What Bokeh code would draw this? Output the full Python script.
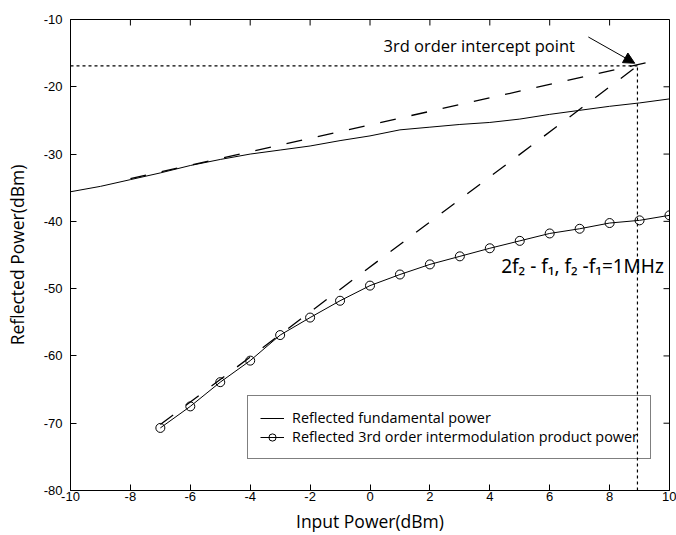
from bokeh.plotting import figure
from bokeh.models import (Range1d, FixedTicker, Legend, LegendItem,
                          Label, Arrow, NormalHead)
from bokeh.embed import file_html
from bokeh.resources import INLINE

# ---------------- data ----------------
input_power = [-10, -9, -8, -7, -6, -5, -4, -3, -2, -1, 0, 1, 2, 3, 4, 5, 6, 7, 8, 9, 10]
fundamental = [-35.6, -34.8, -33.8, -32.8, -31.7, -30.8, -30.0, -29.4, -28.8, -28.0,
               -27.3, -26.4, -26.0, -25.6, -25.3, -24.8, -24.1, -23.5, -22.9, -22.4, -21.8]
im3_input = [-7, -6, -5, -4, -3, -2, -1, 0, 1, 2, 3, 4, 5, 6, 7, 8, 9, 10]
im3_power = [-70.7, -67.5, -63.9, -60.7, -56.9, -54.3, -51.8, -49.55, -47.9, -46.4,
             -45.2, -44.0, -42.9, -41.8, -41.1, -40.25, -39.85, -39.1]
fund_ext_x = [-8.0, 9.3]
fund_ext_y = [-33.65, -16.35]
im3_ext_x = [-7.0, 8.9]
im3_ext_y = [-70.2, -17.0]
intercept_x = 8.93
intercept_y = -16.9
x_ticks = [-10, -8, -6, -4, -2, 0, 2, 4, 6, 8, 10]
x_tick_labels = ["-10", "-8", "-6", "-4", "-2", "0", "2", "4", "6", "8", "10"]
y_ticks = [-80, -70, -60, -50, -40, -30, -20, -10]
y_tick_labels = ["-80", "-70", "-60", "-50", "-40", "-30", "-20", "-10"]
x_min, x_max = -10, 10
y_min, y_max = -80, -10

TXT = "Open Sans"
TICKFONT = "Liberation Sans"

FRAME_W, FRAME_H = 599, 472
TICK_PX = 6

p = figure(width=676, height=535, x_range=Range1d(x_min, x_max), y_range=Range1d(y_min, y_max),
           output_backend="svg", toolbar_location=None,
           min_border_left=70, min_border_right=7, min_border_top=19, min_border_bottom=44,
           x_axis_label="Input Power(dBm)", y_axis_label="Reflected Power(dBm)")
p.grid.visible = False
p.outline_line_color = "black"
p.outline_line_width = 1
p.background_fill_color = "white"
p.border_fill_color = "white"

p.xaxis.ticker = FixedTicker(ticks=x_ticks)
p.yaxis.ticker = FixedTicker(ticks=y_ticks)
p.xaxis.major_label_overrides = {t: s for t, s in zip(x_ticks, x_tick_labels)}
p.yaxis.major_label_overrides = {t: s for t, s in zip(y_ticks, y_tick_labels)}

for ax in (p.xaxis[0], p.yaxis[0]):
    ax.major_tick_in = TICK_PX
    ax.major_tick_out = 0
    ax.minor_tick_line_color = None
    ax.axis_line_color = "black"
    ax.major_tick_line_color = "black"
    ax.major_label_text_font = TICKFONT
    ax.major_label_text_font_size = "13px"
    ax.major_label_text_color = "black"
    ax.axis_label_text_font = TXT
    ax.axis_label_text_font_size = "17.5px"
    ax.axis_label_text_font_style = "normal"
    ax.axis_label_text_color = "black"
p.xaxis.major_label_standoff = 1
p.yaxis.major_label_standoff = 8
p.xaxis.axis_label_standoff = 5
p.yaxis.axis_label_standoff = 12

# inward ticks on the top and right frame edges
tick_dy = TICK_PX * (y_max - y_min) / FRAME_H
tick_dx = TICK_PX * (x_max - x_min) / FRAME_W
p.segment(x0=x_ticks, y0=[y_max] * len(x_ticks), x1=x_ticks, y1=[y_max - tick_dy] * len(x_ticks),
          line_color="black", line_width=1)
p.segment(x0=[x_max] * len(y_ticks), y0=y_ticks, x1=[x_max - tick_dx] * len(y_ticks), y1=y_ticks,
          line_color="black", line_width=1)

# dotted intercept guides
p.line([x_min, intercept_x], [intercept_y, intercept_y], line_color="black",
       line_width=1.2, line_dash="3 3")
p.line([intercept_x, intercept_x], [y_min, intercept_y], line_color="black",
       line_width=1.2, line_dash="3 3")

# extrapolation dashed lines
p.line(fund_ext_x, fund_ext_y, line_color="black", line_width=1.3, line_dash="16 16")
p.line(im3_ext_x, im3_ext_y, line_color="black", line_width=1.3, line_dash="16 16")

# measured curves
r_fund = p.line(input_power, fundamental, line_color="black", line_width=1)
r_im3_line = p.line(im3_input, im3_power, line_color="black", line_width=1)
r_im3_pts = p.scatter(im3_input, im3_power, marker="circle", size=9, fill_color=None,
                      line_color="black", line_width=1)

legend = Legend(items=[
    LegendItem(label="Reflected fundamental power", renderers=[r_fund]),
    LegendItem(label="Reflected 3rd order intermodulation product power",
               renderers=[r_im3_line, r_im3_pts]),
], location=(177, 31))
legend.label_text_font = TXT
legend.label_text_font_size = "14.4px"
legend.label_text_color = "black"
legend.label_height = 18
legend.glyph_height = 18
legend.glyph_width = 24
legend.label_standoff = 8
legend.spacing = 0
legend.padding = 12
legend.margin = 0
legend.border_line_color = "black"
legend.border_line_width = 1
legend.background_fill_alpha = 0
p.add_layout(legend)

p.add_layout(Label(x=0.45, y=-13.86, text="3rd order intercept point", text_font=TXT,
                   text_font_size="16.5px", text_baseline="alphabetic", text_color="black"))
p.add_layout(Label(x=4.38, y=-46.63, text="2f\u2082 - f\u2081, f\u2082 -f\u2081=1MHz",
                   text_font="Noto Sans", text_font_size="19px", text_baseline="alphabetic",
                   text_color="black"))
p.add_layout(Arrow(end=NormalHead(size=11, fill_color="black", line_color="black"),
                   x_start=7.29, y_start=-12.6, x_end=8.84, y_end=-16.5,
                   line_color="black", line_width=1))

open("out.html", "w").write(file_html(p, INLINE))
